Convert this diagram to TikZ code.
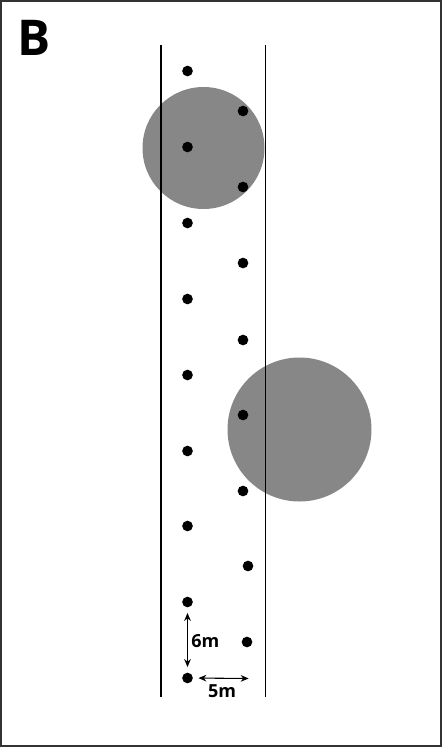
\documentclass[tikz,border=0pt]{standalone}
\usepackage{fontspec}
\setmainfont{Open Sans}
\usetikzlibrary{arrows.meta,positioning}

\begin{document}
\begin{tikzpicture}[
  x=0.75pt,y=-0.75pt,
  font=\bfseries,
  tree/.style={circle,fill=black,inner sep=0pt,minimum size=8pt},
  crown/.style={fill=black!47},
  edge/.style={draw=black,line width=0.9pt},
  dim/.style={{Stealth[length=6pt,width=5pt]}-{Stealth[length=6pt,width=5pt]},line width=0.8pt,shorten <=4pt,shorten >=4pt}
]
\useasboundingbox (0,0) rectangle (442,747);
\draw[draw=black!80,line width=1.6pt] (1,1) rectangle (441,746);

% canopy gaps
\fill[crown] (203.5,148) circle (61);
\fill[crown] (299.5,429.5) circle (72);

% plot edges
\coordinate (ltop) at (161,45); \coordinate (lbot) at (161,697);
\coordinate (rtop) at (265.5,45); \coordinate (rbot) at (265.5,697);
\draw[edge] (ltop) -- (lbot);
\draw[edge] (rtop) -- (rbot);

% trees, left row
\foreach \i/\y in {1/71,2/147,3/223,4/299,5/375,6/451,7/526,8/602,9/678}
  \node[tree] (l\i) at (187.5,\y) {};
% trees, right row
\foreach \i/\x/\y in {1/243/111,2/243/187,3/243/263,4/243/340,5/243/415,6/243/491,7/248/566,8/247/642}
  \node[tree] (r\i) at (\x,\y) {};

\node[font=\bfseries\fontsize{37}{37}\selectfont] (lab) at (34,38) {B};

% spacing
\coordinate (hend) at (254,678.5);
\draw[dim] (l8) -- (l9);
\draw[dim] (l9) -- (hend);
\node[anchor=west,font=\bfseries\fontsize{13.5}{14}\selectfont,inner sep=0pt] (six) at (191,641.5) {6m};
\node[font=\bfseries\fontsize{13.5}{14}\selectfont,inner sep=0pt] (five) at (222,691) {5m};
\end{tikzpicture}
\end{document}
